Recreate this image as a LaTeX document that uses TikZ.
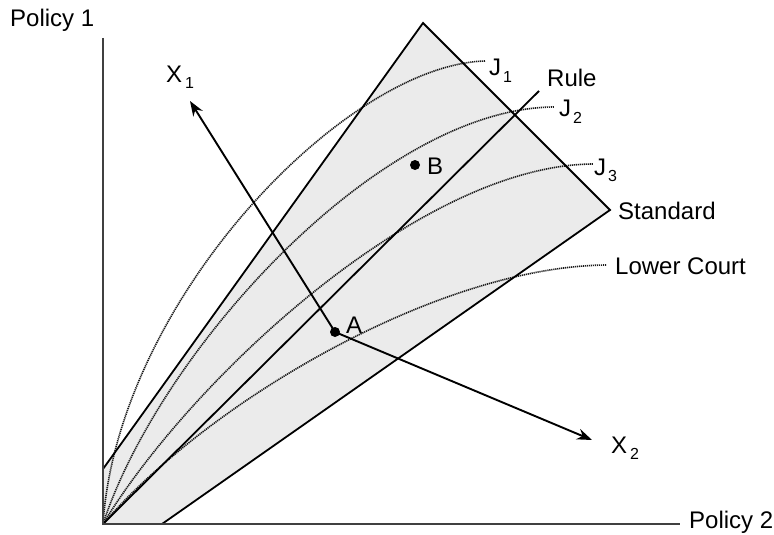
\documentclass[tikz,border=0pt]{standalone}
\usepackage{fontspec}
\setmainfont{Liberation Sans}
\usetikzlibrary{arrows.meta}
\newcommand\mysub[1]{\raisebox{-6pt}{\fontsize{16}{18}\selectfont #1}}
\begin{document}
\begin{tikzpicture}[x=1pt,y=-1pt,
  lbl/.style={inner sep=0pt, anchor=base west, font=\fontsize{24}{27}\selectfont},
  edge/.style={line width=1.8pt},
  jcurve/.style={line width=1.6pt, dash pattern=on 1.2pt off 0.8pt, black!90},
  axis/.style={line width=2.2pt, black!75},
  arr/.style={line width=1.9pt, -{Stealth[length=15pt,width=11pt]}},
  dot/.style={circle, fill=black, inner sep=0pt, minimum size=10pt},
]
\useasboundingbox (0,0) rectangle (774,535);
% key points
\coordinate (O) at (103,524);
\coordinate (Ytop) at (103,38);
\coordinate (Xend) at (680,524);
\coordinate (Lb) at (103,469);
\coordinate (Top) at (423,23);
\coordinate (Rt) at (610,210);
\coordinate (Bb) at (162,524);
\coordinate (RuleEnd) at (539,91);
\coordinate (J1e) at (485,61);
\coordinate (J2e) at (554,107);
\coordinate (J3e) at (593,164);
\coordinate (LCe) at (607,265);
\coordinate (X1tip) at (190,101);
\coordinate (X2tip) at (592,440);
% shaded region
\fill[black!8] (O) -- (Lb) -- (Top) -- (Rt) -- (Bb) -- cycle;
% dotted indifference curves
\draw[jcurve] (O) .. controls (118,300) and (345,65) .. (J1e);
\draw[jcurve] (O) .. controls (160,350) and (380,108) .. (J2e);
\draw[jcurve] (O) .. controls (190,380) and (420,165) .. (J3e);
\draw[jcurve] (O) .. controls (210,400) and (440,266) .. (LCe);
% boundaries and rule
\draw[edge] (Lb) -- (Top) -- (Rt) -- (Bb);
\draw[edge] (O) -- (RuleEnd);
% axes
\draw[axis] (Ytop) -- (O) -- (Xend);
% points and arrows
\node[dot] (A) at (335,332) {};
\node[dot] (B) at (415,165) {};
\draw[arr] (A.center) -- (X1tip);
\draw[arr] (A.center) -- (X2tip);
% labels
\node[lbl] (p1) at (10,27) {Policy 1};
\node[lbl] (p2) at (689,528) {Policy 2};
\node[lbl] (rule) at (547,86) {Rule};
\node[lbl] (std) at (618,219) {Standard};
\node[lbl] (lc) at (615,274) {Lower Court};
\node[lbl] (j1) at (489,76) {J\hspace{2pt}\mysub{1}};
\node[lbl] (j2) at (559,117) {J\hspace{2pt}\mysub{2}};
\node[lbl] (j3) at (594,175) {J\hspace{2pt}\mysub{3}};
\node[lbl] (x1) at (166,82) {X\hspace{3pt}\mysub{1}};
\node[lbl] (x2) at (611,453) {X\hspace{3pt}\mysub{2}};
\node[lbl] (la) at (346,333) {A};
\node[lbl] (lb) at (427,174) {B};
\end{tikzpicture}
\end{document}
